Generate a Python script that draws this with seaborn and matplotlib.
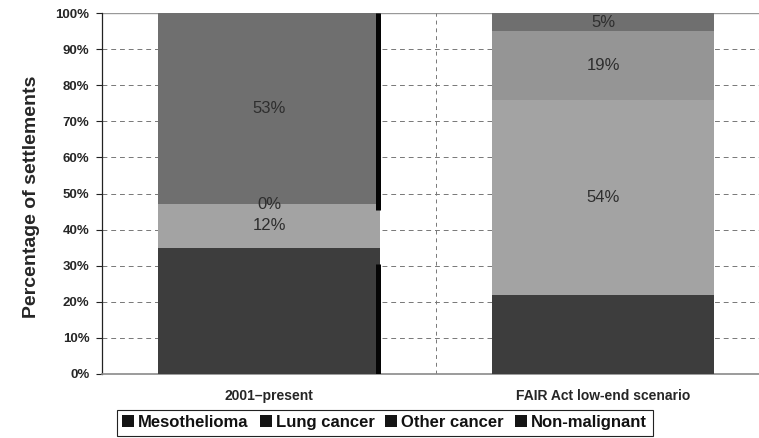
import matplotlib
matplotlib.use("Agg")
import matplotlib.pyplot as plt
import matplotlib.transforms as mtransforms
import seaborn as sns
import numpy as np
import pandas as pd
from matplotlib.patches import Rectangle

# Share of settlements by disease category
scenarios = ["2001\u2013present", "FAIR Act low-end scenario"]
categories = ["Mesothelioma", "Lung cancer", "Other cancer", "Non-malignant"]
mesothelioma = [35, 22]
lung_cancer = [12, 54]
other_cancer = [0, 19]
non_malignant = [53, 5]
y_ticks = [0, 10, 20, 30, 40, 50, 60, 70, 80, 90, 100]

series = [mesothelioma, lung_cancer, other_cancer, non_malignant]
colors = ["#3d3d3d", "#a3a3a3", "#959595", "#6f6f6f"]
labelled = [False, True, True, True]

sns.set_theme(style="white")
plt.rcParams["font.family"] = ["Liberation Sans", "DejaVu Sans"]

W, H = 759, 438
fig = plt.figure(figsize=(W / 100, H / 100), dpi=100)
ax = fig.add_axes([102 / W, 64 / H, 657 / W, 361 / H])

# Stack by drawing cumulative totals from the top series downwards
cum = np.cumsum(np.array(series, dtype=float), axis=0)
df = pd.DataFrame({"scenario": scenarios})
for i in range(len(series) - 1, -1, -1):
    df["total"] = cum[i]
    sns.barplot(data=df, x="scenario", y="total", color=colors[i],
                saturation=1, width=0.665, ax=ax, zorder=3,
                edgecolor="none", linewidth=0)

# Segment value labels
for i, vals in enumerate(series):
    if not labelled[i]:
        continue
    for j, v in enumerate(vals):
        center = cum[i][j] - v / 2
        ax.text(j, center, f"{v}%", ha="center", va="center",
                fontsize=12, color="#2e2e2e", zorder=5)

# Dark edge along the inner right side of the first bar
edge_x = ax.patches[0].get_x() + ax.patches[0].get_width()
edge_tr = mtransforms.offset_copy(ax.transData, fig=fig, x=-2.5, y=0, units="dots")
ax.vlines([edge_x, edge_x], [0, 45.5], [30.5, 100], colors="#050505",
          linewidth=3.6, zorder=4, transform=edge_tr)

ax.set_ylim(0, 100)
ax.set_xlim(-0.5, 1.467)
ax.set_yticks(y_ticks)
ax.set_yticklabels([f"{t}%" for t in y_ticks], fontsize=9.5, fontweight="bold")
ax.set_xticks(range(len(scenarios)))
ax.set_xticklabels(scenarios, fontsize=10, fontweight="bold")
ax.tick_params(axis="x", length=0, pad=11)
ax.tick_params(axis="y", length=4, width=0.8, color="#222222", pad=5, left=True)

ax.set_xlabel("")
ax.set_ylabel("Percentage of settlements", fontsize=14, fontweight="bold")
ax.yaxis.set_label_coords(-0.095, 0.49)

# Gridlines and category separator
for t in y_ticks[1:-1]:
    ax.axhline(t, color="#777777", linewidth=0.7, linestyle=(0, (5, 4)), zorder=1)
ax.axhline(100, color="#999999", linewidth=1.0, zorder=1)
ax.axvline(0.5, color="#777777", linewidth=0.7, linestyle=(0, (4, 4)), zorder=1)

for side in ["top", "right"]:
    ax.spines[side].set_visible(False)
ax.spines["left"].set_color("#222222")
ax.spines["left"].set_linewidth(0.9)
ax.spines["bottom"].set_color("#8a8a8a")
ax.spines["bottom"].set_linewidth(1.2)

# Single-row key below the chart, every entry on one shared baseline
fig.canvas.draw()
renderer = fig.canvas.get_renderer()
box_left, box_top, box_bottom = 117, 410, 436       # pixels from top-left
baseline = 427
sq = 12
x = box_left + 5
for name in categories:
    fig.patches.append(Rectangle((x / W, (H - baseline) / H), sq / W, sq / H,
                                 transform=fig.transFigure, facecolor="#141414",
                                 edgecolor="none", zorder=5))
    x += sq + 4
    t = fig.text(x / W, (H - baseline) / H, name, fontsize=12, fontweight="bold",
                 color="#111111", ha="left", va="baseline", zorder=5)
    x += t.get_window_extent(renderer).width + 11
box_right = x - 5
fig.patches.append(Rectangle((box_left / W, (H - box_bottom) / H),
                             (box_right - box_left) / W, (box_bottom - box_top) / H,
                             transform=fig.transFigure, facecolor="white",
                             edgecolor="#222222", linewidth=0.8, zorder=4))

fig.savefig("out.png", dpi=100)
